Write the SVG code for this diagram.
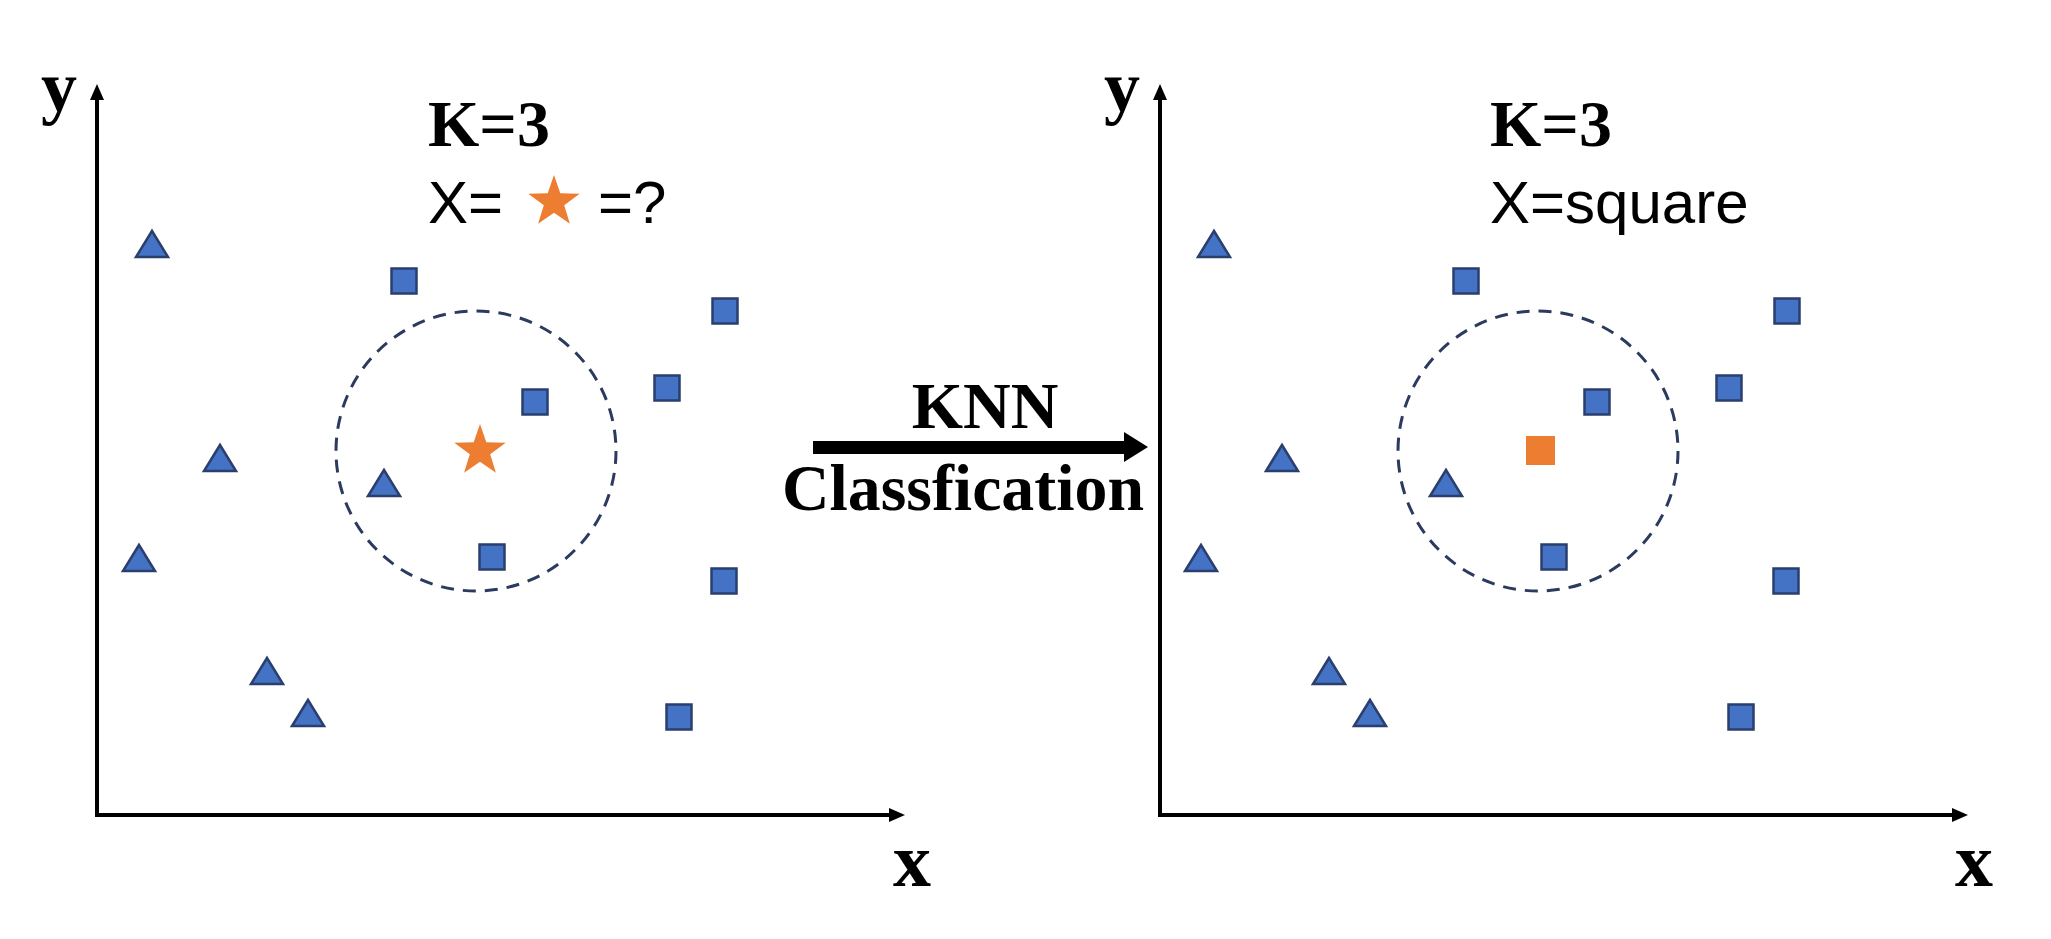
<svg xmlns="http://www.w3.org/2000/svg" width="2051" height="939" viewBox="0 0 2051 939">
<style>
.ax{stroke:#000;stroke-width:4;fill:none}
.tri,.sq{fill:#4472C4;stroke:#2A3F6E;stroke-width:2.5}
.circ{fill:none;stroke:#2B3A5E;stroke-width:3;stroke-dasharray:13 9}
.bt{font-family:"Liberation Serif",serif;font-weight:bold;fill:#000}
.st{font-family:"Liberation Sans",sans-serif;fill:#000;font-size:60px}
</style>
<defs>
<marker id="ah" markerWidth="10" markerHeight="10" refX="9" refY="5" orient="auto" markerUnits="userSpaceOnUse" viewBox="0 0 10 10"><path d="M0,0 L10,5 L0,10 z" fill="#000"/></marker>
<path id="t" class="tri" d="M0,-15 L16,11 L-16,11 z"/>
<rect id="s" class="sq" x="-12.5" y="-12.5" width="25" height="25"/>
<polygon id="star" fill="#ED7D31" points="0,-27 6.3,-8.7 25.7,-8.3 10.2,3.3 15.9,21.8 0,10.8 -15.9,21.8 -10.2,3.3 -25.7,-8.3 -6.3,-8.7"/>
</defs>
<g id="connectors">
<g id="axes-left">
<path class="ax" d="M97,98 V815 H895"/>
<path d="M97,84 L90,100 L104,100 z"/><path d="M905,815 L889,808 L889,822 z"/>
</g>
<g id="axes-right">
<path class="ax" d="M1160,98 V815 H1958"/>
<path d="M1160,84 L1153,100 L1167,100 z"/><path d="M1968,815 L1952,808 L1952,822 z"/>
</g>
<g id="knn-arrow">
<rect x="813" y="441" width="314" height="13"/>
<path d="M1148,447 L1124,432 L1124,462 z"/>
</g>
</g>
<g id="left-panel">
<text class="bt" x="59" y="111" font-size="72" text-anchor="middle">y</text>
<text class="bt" x="912" y="886" font-size="76" text-anchor="middle">x</text>
<text class="bt" x="428" y="146" font-size="66">K=3</text>
<text class="st" x="428" y="223">X=</text>
<use href="#star" x="554" y="202"/>
<text class="st" x="598" y="223">=?</text>
<circle class="circ" cx="476" cy="451" r="140"/>
<use href="#t" x="152" y="246"/><use href="#t" x="220" y="460"/><use href="#t" x="139" y="560"/>
<use href="#t" x="267" y="673"/><use href="#t" x="308" y="715"/><use href="#t" x="384" y="485"/>
<use href="#s" x="404" y="281"/><use href="#s" x="725" y="311"/><use href="#s" x="667" y="388"/>
<use href="#s" x="535" y="402"/><use href="#s" x="492" y="557"/><use href="#s" x="724" y="581"/><use href="#s" x="679" y="717"/>
<use href="#star" x="480" y="451"/>
</g>
<g id="knn-label">
<text class="bt" x="985" y="428" font-size="66" text-anchor="middle">KNN</text>
<text class="bt" x="963" y="510" font-size="66" text-anchor="middle" textLength="362" lengthAdjust="spacingAndGlyphs">Classfication</text>
</g>
<g id="right-panel">
<text class="bt" x="1122" y="111" font-size="72" text-anchor="middle">y</text>
<text class="bt" x="1974" y="886" font-size="76" text-anchor="middle">x</text>
<text class="bt" x="1490" y="146" font-size="66">K=3</text>
<text class="st" x="1490" y="223">X=square</text>
<circle class="circ" cx="1538" cy="451" r="140"/>
<use href="#t" x="1214" y="246"/><use href="#t" x="1282" y="460"/><use href="#t" x="1201" y="560"/>
<use href="#t" x="1329" y="673"/><use href="#t" x="1370" y="715"/><use href="#t" x="1446" y="485"/>
<use href="#s" x="1466" y="281"/><use href="#s" x="1787" y="311"/><use href="#s" x="1729" y="388"/>
<use href="#s" x="1597" y="402"/><use href="#s" x="1554" y="557"/><use href="#s" x="1786" y="581"/><use href="#s" x="1741" y="717"/>
<rect x="1526" y="436" width="29" height="29" fill="#ED7D31"/>
</g>
</svg>
